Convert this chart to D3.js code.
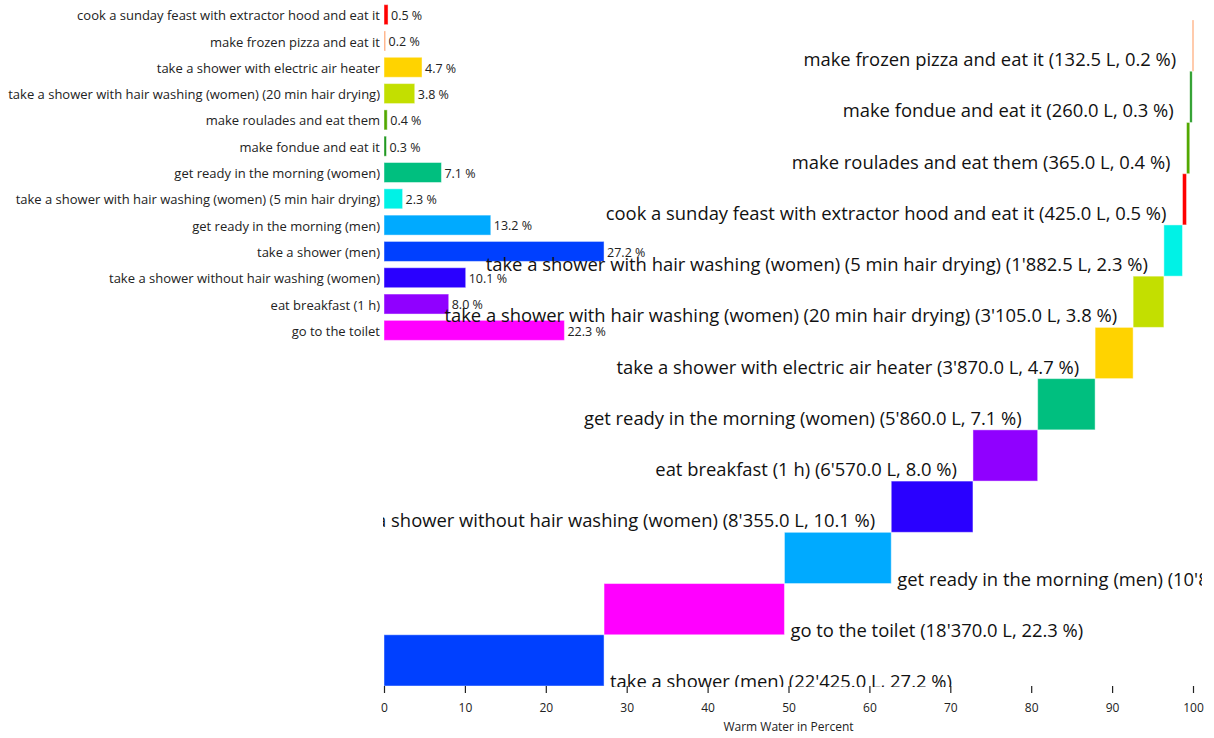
<!DOCTYPE html>
<html>
<head>
<meta charset="utf-8">
<script src="https://cdn.jsdelivr.net/npm/d3@7"></script>
<style>
  html, body { margin: 0; padding: 0; background: #fff; }
  svg { display: block; font-family: "Open Sans", "Noto Sans", sans-serif; }
</style>
</head>
<body>
<svg id="chart" width="1214" height="738"></svg>
<script>
// ---- data ----
const categories = [
  "cook a sunday feast with extractor hood and eat it",
  "make frozen pizza and eat it",
  "take a shower with electric air heater",
  "take a shower with hair washing (women) (20 min hair drying)",
  "make roulades and eat them",
  "make fondue and eat it",
  "get ready in the morning (women)",
  "take a shower with hair washing (women) (5 min hair drying)",
  "get ready in the morning (men)",
  "take a shower (men)",
  "take a shower without hair washing (women)",
  "eat breakfast (1 h)",
  "go to the toilet"
];
const percentValues = [0.5, 0.2, 4.7, 3.8, 0.4, 0.3, 7.1, 2.3, 13.2, 27.2, 10.1, 8.0, 22.3];
const literValues = [425.0, 132.5, 3870.0, 3105.0, 365.0, 260.0, 5860.0, 1882.5, 10890.0, 22425.0, 8355.0, 6570.0, 18370.0];
const barColors = ["#ff0000", "#ffa36e", "#ffd300", "#c3df00", "#52a800", "#1a961a", "#00bf7f",
                   "#00f2e6", "#00aaff", "#0040ff", "#2a00ff", "#9000ff", "#ff00ff"];
const xTicks = [0, 10, 20, 30, 40, 50, 60, 70, 80, 90, 100];
const axisTitle = "Warm Water in Percent";

// ---- setup ----
const svg = d3.select("#chart");
const data = categories.map((c, i) => ({ name: c, pct: percentValues[i], liters: literValues[i], color: barColors[i] }));

const x = d3.scaleLinear().domain([0, 100]).range([384, 1193]);
const locale = d3.formatLocale({ decimal: ".", thousands: "'", grouping: [3], currency: ["", ""] });
const fmtL = locale.format(",.1f");
const fmtP = d3.format(".1f");

// ---- small bar chart (top-left) ----
const yb = d3.scaleBand().domain(categories).range([1.5, 343.5]).paddingInner(0.24).paddingOuter(0.12);
const small = svg.append("g");
small.selectAll("rect").data(data).join("rect")
  .attr("x", x(0))
  .attr("y", d => yb(d.name))
  .attr("width", d => x(d.pct) - x(0))
  .attr("height", yb.bandwidth())
  .attr("fill", d => d.color)
  .attr("stroke", "#fff").attr("stroke-opacity", 0.45).attr("stroke-width", 1);
small.selectAll("text.cat").data(data).join("text")
  .attr("class", "cat")
  .attr("x", x(0) - 4)
  .attr("y", d => yb(d.name) + yb.bandwidth() / 2 + 1)
  .attr("dy", "0.35em")
  .attr("text-anchor", "end")
  .attr("font-size", 13)
  .attr("fill", "#222")
  .text(d => d.name);
small.selectAll("text.val").data(data).join("text")
  .attr("class", "val")
  .attr("x", d => x(d.pct) + 3)
  .attr("y", d => yb(d.name) + yb.bandwidth() / 2 + 1)
  .attr("dy", "0.35em")
  .attr("font-size", 12.5)
  .attr("fill", "#222")
  .text(d => fmtP(d.pct) + " %");

// ---- waterfall (sorted, cumulative) ----
const sorted = data.slice().sort((a, b) => b.pct - a.pct);
let acc = 0;
sorted.forEach(d => { d.start = acc; acc += d.pct; d.end = acc; });
const yw = d3.scaleBand().domain(sorted.map(d => d.name)).range([686, 20]).padding(0);

svg.append("defs").append("clipPath").attr("id", "clipW")
  .append("rect").attr("x", 383).attr("y", 0).attr("width", 1202 - 383).attr("height", 687);
const wf = svg.append("g").attr("clip-path", "url(#clipW)");
wf.selectAll("rect").data(sorted).join("rect")
  .attr("x", d => x(d.start))
  .attr("y", d => yw(d.name))
  .attr("width", d => Math.max(1.5, x(d.end) - x(d.start)))
  .attr("height", yw.bandwidth())
  .attr("fill", d => d.color)
  .attr("stroke", "#fff").attr("stroke-opacity", 0.45).attr("stroke-width", 1);
wf.selectAll("text").data(sorted).join("text")
  .attr("x", d => d.end < 70 ? x(d.end) + 6 : x(d.start) - 16)
  .attr("y", d => d.end < 70 ? yw(d.name) + yw.bandwidth() + 2 : yw(d.name) + yw.bandwidth() - 5)
  .attr("text-anchor", d => d.end < 70 ? "start" : "end")
  .attr("font-size", 18.4)
  .attr("fill", "#111")
  .text(d => `${d.name} (${fmtL(d.liters)} L, ${fmtP(d.pct)} %)`);

// ---- axis ----
const axis = svg.append("g").attr("transform", "translate(0,686)")
  .call(d3.axisBottom(x).tickValues(xTicks).tickSize(7).tickPadding(10).tickFormat(d3.format("d")));
axis.select(".domain").remove();
axis.selectAll(".tick line").attr("stroke", "#222").attr("stroke-width", 1.2);
axis.selectAll(".tick text").attr("font-size", 12).attr("fill", "#222").attr("font-family", "Open Sans, sans-serif");
svg.append("text")
  .attr("x", (x(0) + x(100)) / 2)
  .attr("y", 731)
  .attr("text-anchor", "middle")
  .attr("font-size", 12)
  .attr("fill", "#222")
  .text(axisTitle);
</script>
</body>
</html>
